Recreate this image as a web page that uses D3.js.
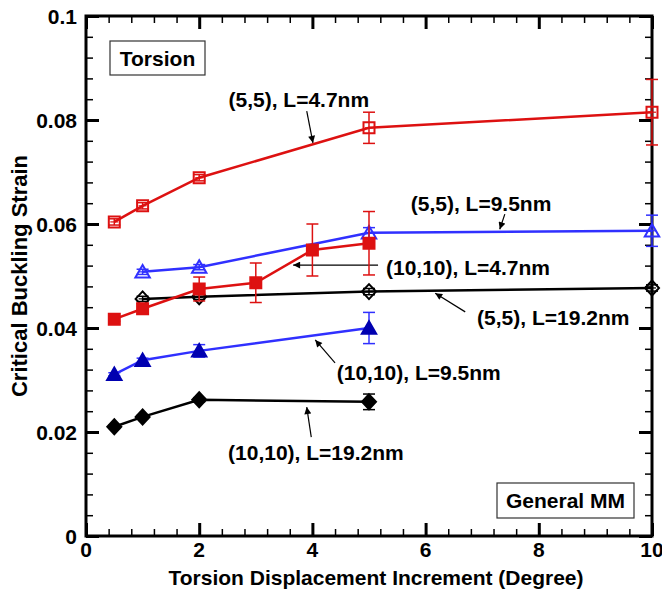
<!DOCTYPE html>
<html>
<head>
<meta charset="utf-8">
<script src="https://cdn.jsdelivr.net/npm/d3@7"></script>
<style>
  body { margin: 0; background: #fff; }
  text { font-family: "Liberation Sans", Arial, sans-serif; font-weight: bold; }
</style>
</head>
<body>
<svg width="662" height="595"></svg>
<script>
const [w, h] = [662, 595];
const m = {left: 86, right: 10, top: 16, bottom: 59};

// x ticks and y ticks
const xTicks = [0, 2, 4, 6, 8, 10];
const yTicks = [0, 0.02, 0.04, 0.06, 0.08, 0.1];
const yTickLabels = ['0', '0.02', '0.04', '0.06', '0.08', '0.1'];

// (5,5) L=4.7nm
const a_x = [0.5, 1, 2, 5, 10];
const a_y = [0.0604, 0.0635, 0.0689, 0.0785, 0.0815];
const a_e = [0.0006, 0.0006, 0.0006, 0.003, 0.0063];
// (5,5) L=9.5nm
const b_x = [1, 2, 5, 10];
const b_y = [0.0508, 0.0517, 0.0583, 0.0587];
const b_e = [0.0005, 0.0005, 0.001, 0.003];
// (10,10) L=4.7nm
const c_x = [0.5, 1, 2, 3, 4, 5];
const c_y = [0.0417, 0.0437, 0.0475, 0.0487, 0.055, 0.0563];
const c_e = [0.0004, 0.001, 0.0023, 0.0038, 0.005, 0.0061];
// (5,5) L=19.2nm
const d_x = [1, 2, 5, 10];
const d_y = [0.0456, 0.046, 0.047, 0.0477];
const d_e = [0.0005, 0.0005, 0.0006, 0.0006];
// (10,10) L=9.5nm
const e_x = [0.5, 1, 2, 5];
const e_y = [0.0311, 0.0338, 0.0356, 0.04];
const e_e = [0.0003, 0.0004, 0.0012, 0.003];
// (10,10) L=19.2nm
const f_x = [0.5, 1, 2, 5];
const f_y = [0.021, 0.0229, 0.0262, 0.0258];
const f_e = [0.0003, 0.0003, 0.0004, 0.0015];

const series = [
  {x: a_x, y: a_y, e: a_e, line: '#dd1111', mark: '#dd1111', shape: 'square', fill: false},
  {x: b_x, y: b_y, e: b_e, line: '#3030ff', mark: '#3030ff', shape: 'triangle', fill: false},
  {x: d_x, y: d_y, e: d_e, line: '#000', mark: '#000', shape: 'diamond', fill: false},
  {x: c_x, y: c_y, e: c_e, line: '#dd1111', mark: '#dd1111', shape: 'square', fill: true},
  {x: e_x, y: e_y, e: e_e, line: '#3030ff', mark: '#0000b0', shape: 'triangle', fill: true},
  {x: f_x, y: f_y, e: f_e, line: '#000', mark: '#000', shape: 'diamond', fill: true}
];

// annotation labels: text anchor point and arrow (data units)
const notes = [
  {t: '(5,5), L=4.7nm', tx: 3.76, ty: 0.0840, anchor: 'middle', ax: [3.90, 4.01], ay: [0.0817, 0.0756]},
  {t: '(5,5), L=9.5nm', tx: 6.98, ty: 0.0640, anchor: 'middle', ax: [7.40, 7.31], ay: [0.0619, 0.0590]},
  {t: '(10,10), L=4.7nm', tx: 5.30, ty: 0.0517, anchor: 'start', ax: [5.16, 3.66], ay: [0.0521, 0.0521]},
  {t: '(5,5), L=19.2nm', tx: 6.91, ty: 0.0421, anchor: 'start', ax: [6.70, 6.17], ay: [0.0431, 0.0467]},
  {t: '(10,10), L=9.5nm', tx: 4.43, ty: 0.0315, anchor: 'start', ax: [4.40, 4.05], ay: [0.0333, 0.0377]},
  {t: '(10,10), L=19.2nm', tx: 2.51, ty: 0.0160, anchor: 'start', ax: [3.98, 3.90], ay: [0.0190, 0.0248]}
];

const svg = d3.select('svg');

const xScale = d3.scaleLinear().domain([0, 10]).range([m.left, w - m.right]);
const yScale = d3.scaleLinear().domain([0, 0.1]).range([h - m.bottom, m.top]);

svg.append('defs').append('marker')
    .attr('id', 'arr')
    .attr('viewBox', '0 0 10 10')
    .attr('refX', 10).attr('refY', 5)
    .attr('markerWidth', 9).attr('markerHeight', 7)
    .attr('markerUnits', 'userSpaceOnUse')
    .attr('orient', 'auto')
  .append('path')
    .attr('d', 'M0,0 L10,5 L0,10 z')
    .attr('fill', '#000');

// axes with inward ticks, mirrored on top and right
const minorX = d3.range(0, 10.001, 0.4);
const minorY = d3.range(0, 0.1001, 0.004);

function ticks(g, axis, vals, len) {
  g.call(axis.tickValues(vals).tickSize(len).tickFormat(''))
    .call(s => s.select('.domain').remove())
    .selectAll('line').attr('stroke', '#000');
}

const x0 = xScale(0), x1 = xScale(10), y0 = yScale(0), y1 = yScale(0.1);

svg.append('g').attr('transform', `translate(0,${y0})`).call(g => ticks(g, d3.axisTop(xScale), minorX, 7)).selectAll('line').attr('stroke-width', 1.5);
svg.append('g').attr('transform', `translate(0,${y0})`).call(g => ticks(g, d3.axisTop(xScale), xTicks, 13)).selectAll('line').attr('stroke-width', 3);
svg.append('g').attr('transform', `translate(0,${y1})`).call(g => ticks(g, d3.axisBottom(xScale), minorX, 7)).selectAll('line').attr('stroke-width', 1.5);
svg.append('g').attr('transform', `translate(0,${y1})`).call(g => ticks(g, d3.axisBottom(xScale), xTicks, 13)).selectAll('line').attr('stroke-width', 3);
svg.append('g').attr('transform', `translate(${x0},0)`).call(g => ticks(g, d3.axisRight(yScale), minorY, 7)).selectAll('line').attr('stroke-width', 1.5);
svg.append('g').attr('transform', `translate(${x0},0)`).call(g => ticks(g, d3.axisRight(yScale), yTicks, 13)).selectAll('line').attr('stroke-width', 3);
svg.append('g').attr('transform', `translate(${x1},0)`).call(g => ticks(g, d3.axisLeft(yScale), minorY, 7)).selectAll('line').attr('stroke-width', 1.5);
svg.append('g').attr('transform', `translate(${x1},0)`).call(g => ticks(g, d3.axisLeft(yScale), yTicks, 13)).selectAll('line').attr('stroke-width', 3);

svg.append('rect')
    .attr('x', x0).attr('y', y1)
    .attr('width', x1 - x0).attr('height', y0 - y1)
    .attr('fill', 'none').attr('stroke', '#000').attr('stroke-width', 3);

// tick labels
svg.selectAll('.xl').data(xTicks).enter().append('text')
    .attr('x', d => xScale(d)).attr('y', y0 + 21)
    .attr('text-anchor', 'middle').attr('font-size', 21)
    .text(d => d);
svg.selectAll('.yl').data(yTicks).enter().append('text')
    .attr('x', x0 - 9).attr('y', d => yScale(d) + 7.5)
    .attr('text-anchor', 'end').attr('font-size', 21)
    .text((d, i) => yTickLabels[i]);

svg.append('text')
    .attr('x', (x0 + x1) / 2 + 7).attr('y', 585)
    .attr('text-anchor', 'middle').attr('font-size', 21)
    .text('Torsion Displacement Increment (Degree)');
svg.append('text')
    .attr('transform', `translate(27,${(y0 + y1) / 2}) rotate(-90)`)
    .attr('text-anchor', 'middle').attr('font-size', 22)
    .text('Critical Buckling Strain');

// boxes
function box(cx, cy, bw, bh, txt) {
  svg.append('rect').attr('x', cx - bw / 2).attr('y', cy - bh / 2)
      .attr('width', bw).attr('height', bh)
      .attr('fill', '#fff').attr('stroke', '#333').attr('stroke-width', 1.2);
  svg.append('text').attr('x', cx).attr('y', cy + 7.5)
      .attr('text-anchor', 'middle').attr('font-size', 21).text(txt);
}
box(157.5, 58, 95, 34, 'Torsion');
box(565.5, 500.5, 137, 35, 'General MM');

// annotations
notes.forEach(n => {
  svg.append('text')
      .attr('x', xScale(n.tx)).attr('y', yScale(n.ty) + 7.5)
      .attr('text-anchor', n.anchor).attr('font-size', 21)
      .text(n.t);
  svg.append('line')
      .attr('x1', xScale(n.ax[0])).attr('y1', yScale(n.ay[0]))
      .attr('x2', xScale(n.ax[1])).attr('y2', yScale(n.ay[1]))
      .attr('stroke', '#000').attr('stroke-width', 1.2)
      .attr('marker-end', 'url(#arr)');
});

// series
const line = d3.line().x(d => xScale(d[0])).y(d => yScale(d[1]));
const diamond = {draw(ctx) { ctx.moveTo(0, -7.5); ctx.lineTo(7, 0); ctx.lineTo(0, 7.5); ctx.lineTo(-7, 0); ctx.closePath(); }};
const sym = {square: d3.symbolSquare, triangle: d3.symbolTriangle, diamond: diamond};
const sz = {square: 121, triangle: 90, diamond: 1};

series.forEach(s => {
  const pts = s.x.map((x, i) => [x, s.y[i], s.e[i]]);
  const g = svg.append('g');
  g.append('path').datum(pts)
      .attr('d', line).attr('fill', 'none')
      .attr('stroke', s.line).attr('stroke-width', 2.5);

  const eb = g.selectAll('.eb').data(pts).enter().append('g').attr('stroke', s.line).attr('stroke-width', 1.5);
  eb.append('line')
      .attr('x1', d => xScale(d[0])).attr('x2', d => xScale(d[0]))
      .attr('y1', d => yScale(d[1] - d[2])).attr('y2', d => yScale(d[1] + d[2]));
  [-1, 1].forEach(sg => {
    eb.append('line')
        .attr('x1', d => xScale(d[0]) - 6).attr('x2', d => xScale(d[0]) + 6)
        .attr('y1', d => yScale(d[1] + sg * d[2])).attr('y2', d => yScale(d[1] + sg * d[2]));
  });

  g.selectAll('.mk').data(pts).enter().append('path')
      .attr('transform', d => `translate(${xScale(d[0])},${yScale(d[1]) + (s.shape === 'triangle' ? 1.5 : 0)})`)
      .attr('d', d3.symbol().type(sym[s.shape]).size(sz[s.shape]))
      .attr('fill', s.fill ? s.mark : 'none')
      .attr('stroke', s.mark).attr('stroke-width', 2);

  if (!s.fill) {
    // small centre cross seen inside the open markers
    g.selectAll('.cx').data(pts).enter().append('line')
        .attr('x1', d => xScale(d[0]) - 4).attr('x2', d => xScale(d[0]) + 4)
        .attr('y1', d => yScale(d[1])).attr('y2', d => yScale(d[1]))
        .attr('stroke', s.line).attr('stroke-width', 1.2);
  }
});
</script>
</body>
</html>
